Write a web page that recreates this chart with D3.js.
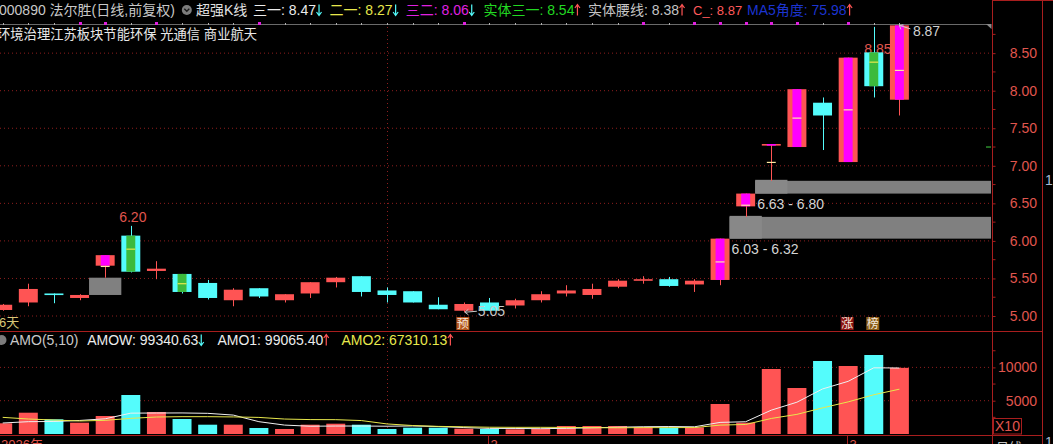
<!DOCTYPE html>
<html><head><meta charset="utf-8">
<script src="https://cdn.jsdelivr.net/npm/d3@7"></script>
<style>
html,body{margin:0;padding:0;background:#000;overflow:hidden}
svg{display:block}
text{font-family:"Liberation Sans","Noto Sans CJK SC",sans-serif}
</style></head><body>
<svg id="c" width="1053" height="444"></svg>
<script>
// ---------------- data ----------------
const dates = ["2026-01-06","2026-01-07","2026-01-08","2026-01-09","2026-01-12","2026-01-13","2026-01-14","2026-01-15","2026-01-16",
  "2026-01-19","2026-01-20","2026-01-21","2026-01-22","2026-01-23","2026-01-26","2026-01-27","2026-01-28","2026-01-29","2026-01-30",
  "2026-02-02","2026-02-03","2026-02-04","2026-02-05","2026-02-06","2026-02-09","2026-02-10","2026-02-11","2026-02-12","2026-02-13",
  "2026-02-24","2026-02-25","2026-02-26","2026-02-27","2026-03-02","2026-03-03","2026-03-04"];
const open  = [5.08,5.18,5.30,5.24,5.67,6.07,5.60,5.56,5.44,5.21,5.37,5.21,5.30,5.45,5.53,5.34,5.33,5.15,5.07,
               5.18,5.14,5.21,5.30,5.28,5.39,5.48,5.49,5.42,5.48,6.46,7.29,7.25,7.84,7.05,8.51,7.88];
const high  = [5.16,5.43,5.30,5.29,5.81,6.20,5.73,5.56,5.48,5.37,5.37,5.29,5.45,5.52,5.53,5.38,5.33,5.25,5.18,
               5.24,5.23,5.33,5.41,5.43,5.49,5.53,5.52,5.49,6.03,6.63,7.29,8.02,7.91,8.44,8.85,8.87];
const low   = [5.07,5.13,5.17,5.21,5.51,5.58,5.49,5.30,5.22,5.13,5.24,5.18,5.24,5.38,5.26,5.18,5.18,5.09,5.05,
               5.07,5.10,5.18,5.26,5.23,5.37,5.43,5.39,5.32,5.41,6.32,6.80,7.25,7.21,7.05,7.91,7.67];
const close = [5.15,5.36,5.29,5.28,5.81,5.59,5.63,5.32,5.24,5.35,5.26,5.29,5.45,5.51,5.32,5.28,5.18,5.09,5.16,
               5.07,5.21,5.29,5.34,5.36,5.47,5.49,5.40,5.47,6.03,6.63,7.29,8.02,7.67,8.44,8.06,8.87];
const fillKind = ["","","","","m","g","","g","","","","","","","","","","","","","","","","","","","","","m","m","m","m","","m","g","m"];
const amo  = [1607,3198,2207,1697,2703,5856,3303,2252,1396,1396,901,751,1396,1547,1396,751,946,946,796,
              751,706,796,1201,1201,1201,1050,946,1001,4505,1697,9760,6907,10961,10210,11862,9934];
const amo1 = [1650,1850,1880,2030,2282,3132,3153,3162,3102,2841,1850,1339,1168,1198,1198,1168,1207,1117,967,
              838,829,799,850,931,1021,1090,1120,1080,1741,1840,3582,4774,6766,7907,9940,9907];
const amo2 = [2500,2250,2100,1950,2050,2350,2550,2600,2600,2562,2491,2246,2165,2150,2019,1509,1273,1143,1083,
              1018,999,1003,984,949,930,959,959,965,1336,1430,2336,2947,3923,4824,5890,6731];
const gapLow  = [5.28, 6.03, 6.63];
const gapHigh = [5.51, 6.32, 6.80];
const gapFrom = [3, 28, 29];
const gapTo   = [5, 30, 31];
const gapOpen = [false, true, true];
const priceTicks = [5.00,5.50,6.00,6.50,7.00,7.50,8.00,8.50];
const priceMinor = [5.25,5.75,6.25,6.75,7.25,7.75,8.25,8.75];
const volTicks = [5000,10000];
const volMinor = [2500,7500,12500];
const monthIdx = [19,33];
const monthLbl = ["2","3"];
const topMarkIdx = [3,4,6,10,18,25,27,28,29,30,31,33];
const markIdx = [18,33,34];
const markTxt = ["预","涨","榜"];
const markCol = ["#b4561c","#8a1212","#8a5c16"];
const cursorIdx = 15;
const greenMarkPrice = [7.25];
const hdrName = ["三一","二一","三二","实体三一","实体腰线","C_","MA5角度"];
const hdrVal  = ["8.47","8.27","8.06","8.54","8.38","8.87","75.98"];
const hdrDir  = ["down","down","down","up","up","","up"];
const volName = ["AMOW","AMO1","AMO2"];
const volVal  = ["99340.63","99065.40","67310.13"];
const volDir  = ["down","up","up"];

// ---------------- layout ----------------
const svg = d3.select("#c");
const XR = 992;
const RED="#ff5454", CYAN="#54fcfc", MAG="#ff00ff", GRN="#3cba3c", GRID="#8e1e1e", AXIS="#a81e1e", LBL="#e0564e";
const x = d3.scaleBand().domain(dates.concat(["+1","+2","+3"])).range([-10.11, 989.07]).paddingInner(0.26).paddingOuter(0.13);
const bw = x.bandwidth();
const cx = i => x(dates[i]) + bw/2;
const y = d3.scaleLinear().domain([5, 8.5]).range([316, 53.15]);
const yv = d3.scaleLinear().domain([0, 10000]).range([434, 367.4]);
const up = i => close[i] >= open[i];
const col = i => up(i) ? RED : CYAN;

function arrow(g, ax, yc, dir, color){
  const t = yc-5.5, b = yc+5.5;
  const d = dir==="down"
    ? `M${ax},${t}V${b}M${ax-2.5},${b-3.5}L${ax},${b}L${ax+2.5},${b-3.5}`
    : `M${ax},${b}V${t}M${ax-2.5},${t+3.5}L${ax},${t}L${ax+2.5},${t+3.5}`;
  g.append("path").attr("d", d).attr("stroke", color).attr("stroke-width",1.2).attr("fill","none");
}

// grid lines
const gGrid = svg.append("g");
priceTicks.forEach(p => gGrid.append("line").attr("x1",0).attr("x2",XR-2).attr("y1",y(p)).attr("y2",y(p))
  .attr("stroke",GRID).attr("stroke-dasharray","1,3"));
volTicks.forEach(v => gGrid.append("line").attr("x1",0).attr("x2",XR-2).attr("y1",yv(v)).attr("y2",yv(v))
  .attr("stroke",GRID).attr("stroke-dasharray","1,3"));
gGrid.append("line").attr("x1",Math.round(cx(cursorIdx))+0.5).attr("x2",Math.round(cx(cursorIdx))+0.5)
  .attr("y1",27).attr("y2",434).attr("stroke",GRID).attr("stroke-dasharray","1,3");

// header row 1
const hdr = svg.append("g").attr("font-size",14);
hdr.append("text").attr("x",-1).attr("y",15).attr("fill","#c8c8c8").text("000890 法尔胜(日线,前复权)");
hdr.append("circle").attr("cx",186.8).attr("cy",10).attr("r",5).attr("fill","#7c7c7c");
hdr.append("path").attr("d","M184.3,8.8L186.8,11.3L189.3,8.8").attr("stroke","#1a1a1a").attr("stroke-width",1.4).attr("fill","none");
hdr.append("text").attr("x",196).attr("y",15).attr("fill","#e0e0e0").text("超强K线");
const hdrX = [253,329.6,405.7,483.4,588,693,747];
const hdrCol = ["#ececec","#e8e84c","#e020e0","#22d822","#c4c4c4","#ff5a5a","#1c34d0"];
hdrName.forEach((n,k)=>{
  const t = hdr.append("text").attr("x",hdrX[k]).attr("y",15).attr("fill",hdrCol[k]).text(n+": "+hdrVal[k]);
  if(n==="C_") t.attr("font-size",13);
  const len = t.node().getComputedTextLength();
  if(hdrDir[k]) arrow(hdr, hdrX[k]+len+3, 10, hdrDir[k], hdrDir[k]==="down"?CYAN:RED);
});
// top tick line
svg.append("line").attr("x1",0).attr("x2",988).attr("y1",24.5).attr("y2",24.5).attr("stroke","#6a6a6a");
svg.append("path").attr("d","M986,24L991.5,24L991.5,29Z").attr("fill","#8a8a8a");
dates.forEach((d,i)=> svg.append("rect").attr("x",Math.round(cx(i))).attr("y",23).attr("width",1).attr("height",2).attr("fill","#b0b0b0"));
topMarkIdx.forEach(i => svg.append("rect").attr("x",Math.round(cx(i))-1).attr("y",22).attr("width",3).attr("height",3).attr("fill","#e020e0"));
// header row 2
svg.append("text").attr("x",-3).attr("y",38.5).attr("font-size",13.3).attr("fill","#e8e8e8").text("环境治理江苏板块节能环保 光通信 商业航天");

// gap zones
const gGap = svg.append("g");
gapLow.forEach((lo,k)=>{
  const hi = gapHigh[k];
  const x0 = x(dates[gapFrom[k]]) + bw;
  const x1 = x(dates[gapTo[k]]);
  const x2 = gapOpen[k] ? XR-1 : x1;
  gGap.append("rect").attr("x",x0).attr("y",y(hi)).attr("width",x2-x0).attr("height",y(lo)-y(hi)).attr("fill","#808080");
  if(gapOpen[k]){
    gGap.append("rect").attr("x",x0).attr("y",y(hi)-1).attr("width",x1-x0).attr("height",y(lo)-y(hi)+1).attr("fill","#888888");
    gGap.append("text").attr("x",x0+2).attr("y",y(lo)+15).attr("font-size",14).attr("fill","#d4d4d4")
      .text(lo.toFixed(2)+" - "+hi.toFixed(2));
  }
});

// label of candle 34 high (drawn below the candle)
const iMax5 = 5, iLowMin = 18, iHi34 = 34, iLast = 35;
svg.append("text").attr("x",cx(iHi34)-9.5).attr("y",y(high[iHi34])+27).attr("font-size",14).attr("fill",LBL).text(high[iHi34].toFixed(2));

// candles
const gC = svg.append("g");
dates.forEach((d,i)=>{
  const c = col(i), xl = x(d), xc = Math.round(cx(i))+0.5;
  gC.append("line").attr("x1",xc).attr("x2",xc).attr("y1",y(high[i])).attr("y2",y(low[i])).attr("stroke",c).attr("stroke-width",1);
  const yt = y(Math.max(open[i],close[i])), yb = y(Math.min(open[i],close[i]));
  const h = Math.max(1.6, yb-yt);
  gC.append("rect").attr("x",xl).attr("y",yt).attr("width",bw).attr("height",h).attr("fill",c);
  if(fillKind[i]){
    gC.append("rect").attr("x",xl+5).attr("y",yt).attr("width",bw-10).attr("height",h).attr("fill",fillKind[i]==="m"?MAG:GRN);
    const ym = y((high[i]+low[i])/2);
    gC.append("line").attr("x1",xl+5).attr("x2",xl+bw-5).attr("y1",ym).attr("y2",ym)
      .attr("stroke",fillKind[i]==="m"?"#ffe8a0":"#e8e84c").attr("stroke-width",1.2);
  }
});

// price labels
svg.append("text").attr("x",cx(iMax5)+2).attr("y",y(high[iMax5])-4).attr("text-anchor","middle").attr("font-size",14).attr("fill",LBL).text(high[iMax5].toFixed(2));
(function(){ const xa = cx(iLowMin)+1, ya = y(low[iLowMin]);
  svg.append("path").attr("d",`M${xa+12},${ya-1}L${xa},${ya}M${xa+3.5},${ya-3}L${xa},${ya}L${xa+3.5},${ya+2.5}`).attr("stroke","#c8c8c8").attr("fill","none");
  svg.append("text").attr("x",xa+13).attr("y",ya+4).attr("font-size",14).attr("fill","#c8c8c8").text(low[iLowMin].toFixed(2));
})();
(function(){ const xa = cx(iLast), ya = y(high[iLast]);
  svg.append("path").attr("d",`M${xa+11},${ya+3.5}L${xa},${ya}M${xa+1.5},${ya+4}L${xa},${ya}L${xa+4},${ya-0.5}`).attr("stroke","#d0d0d0").attr("fill","none");
  svg.append("text").attr("x",xa+13.5).attr("y",ya+10.5).attr("font-size",14).attr("fill","#d0d0d0").text(high[iLast].toFixed(2));
})();

// bottom-of-price-panel text and markers
svg.append("text").attr("x",-1).attr("y",327).attr("font-size",13).attr("fill","#d8c878").text("6天");
markIdx.forEach((i,k)=>{
  const xc = cx(i)-1;
  svg.append("rect").attr("x",xc-6.5).attr("y",317).attr("width",13).attr("height",13).attr("fill",markCol[k]);
  svg.append("text").attr("x",xc).attr("y",328).attr("text-anchor","middle").attr("font-size",12).attr("fill","#f4e8dc").text(markTxt[k]);
});

// volume panel
const gV = svg.append("g");
dates.forEach((d,i)=> gV.append("rect").attr("x",x(d)).attr("y",yv(amo[i])).attr("width",bw).attr("height",yv(0)-yv(amo[i])).attr("fill",col(i)));
const line = d3.line().x((v,i)=>cx(i)).y(v=>yv(v));
gV.append("path").attr("d",line(amo1)).attr("stroke","#f0f0f0").attr("fill","none").attr("stroke-width",1);
gV.append("path").attr("d",line(amo2)).attr("stroke","#e8e84c").attr("fill","none").attr("stroke-width",1);

// volume header
const vh = svg.append("g").attr("font-size",14);
vh.append("circle").attr("cx",1.5).attr("cy",340).attr("r",5).attr("fill","#7c7c7c");
vh.append("text").attr("x",10).attr("y",345).attr("fill","#c8c8c8").text("AMO(5,10)");
const vhX = [87.2,217.4,341.5], vhCol = ["#ececec","#ececec","#e8e84c"];
volName.forEach((n,k)=>{
  const t = vh.append("text").attr("x",vhX[k]).attr("y",345).attr("fill",vhCol[k]).text(n+": "+volVal[k]);
  const len = t.node().getComputedTextLength();
  arrow(vh, vhX[k]+len+3, 340, volDir[k], volDir[k]==="down"?CYAN:RED);
});

// frame lines
const fr = svg.append("g").attr("stroke",AXIS).attr("stroke-width",1);
fr.append("line").attr("x1",0).attr("x2",1042).attr("y1",331.5).attr("y2",331.5);
fr.append("line").attr("x1",0).attr("x2",1042).attr("y1",435.5).attr("y2",435.5);
fr.append("line").attr("x1",992.5).attr("x2",992.5).attr("y1",0).attr("y2",444);
fr.append("line").attr("x1",1042.5).attr("x2",1042.5).attr("y1",0).attr("y2",444);
fr.append("line").attr("x1",992).attr("x2",1053).attr("y1",0.5).attr("y2",0.5);

// price axis
const pa = svg.append("g").attr("transform",`translate(${XR+0.5},0)`)
  .call(d3.axisRight(y).tickValues(priceTicks).tickFormat(d3.format(".2f")).tickSize(3));
pa.select(".domain").remove();
pa.selectAll("line").attr("stroke",AXIS);
pa.selectAll("text").attr("x",44.5).attr("text-anchor","end").attr("fill",LBL).attr("font-size",14)
  .attr("font-family","Liberation Sans, sans-serif");
priceMinor.forEach(p => svg.append("line").attr("x1",XR+0.5).attr("x2",XR+3.5).attr("y1",y(p)).attr("y2",y(p)).attr("stroke",AXIS));
greenMarkPrice.forEach(p => svg.append("line").attr("x1",XR-6).attr("x2",XR-1).attr("y1",y(p)).attr("y2",y(p)).attr("stroke","#40d040"));
svg.append("text").attr("x",1045).attr("y",185).attr("font-size",14).attr("fill","#a8bcd4").text("1");

// volume axis
const va = svg.append("g").attr("transform",`translate(${XR+0.5},0)`)
  .call(d3.axisRight(yv).tickValues(volTicks).tickFormat(d3.format("d")).tickSize(3));
va.select(".domain").remove();
va.selectAll("line").attr("stroke",AXIS);
va.selectAll("text").attr("x",44.5).attr("text-anchor","end").attr("fill",LBL).attr("font-size",14)
  .attr("font-family","Liberation Sans, sans-serif");
volMinor.forEach(v => svg.append("line").attr("x1",XR+0.5).attr("x2",XR+3.5).attr("y1",yv(v)).attr("y2",yv(v)).attr("stroke",AXIS));
svg.append("rect").attr("x",993.5).attr("y",418.5).attr("width",28).attr("height",15.5).attr("fill","none").attr("stroke",AXIS);
svg.append("text").attr("x",1007.5).attr("y",431).attr("text-anchor","middle").attr("font-size",14).attr("fill",LBL).text("X10");

// date axis
svg.append("text").attr("x",1).attr("y",448.5).attr("font-size",13).attr("fill",LBL).text(dates[0].slice(0,4)+"年");
monthIdx.forEach((i,k)=>{
  const xm = Math.round(cx(i))-0.5;
  svg.append("line").attr("x1",xm).attr("x2",xm).attr("y1",436).attr("y2",444).attr("stroke",AXIS);
  svg.append("text").attr("x",xm+2).attr("y",448.5).attr("font-size",13).attr("fill",LBL).text(monthLbl[k]);
});
svg.append("text").attr("x",996).attr("y",452).attr("font-size",13).attr("fill","#c0c0c0").text("日线");
svg.append("text").attr("x",1045).attr("y",447).attr("font-size",14).attr("fill","#a8bcd4").text("1");
</script>
</body></html>
